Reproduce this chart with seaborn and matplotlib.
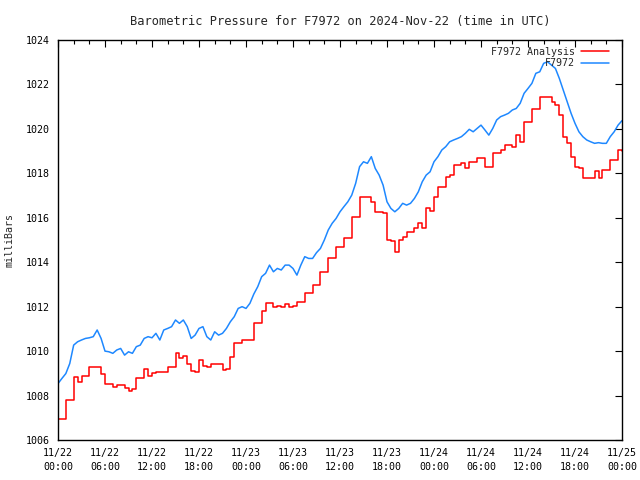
import pandas as pd
import matplotlib
matplotlib.use("Agg")
import matplotlib.pyplot as plt
import matplotlib.dates as mdates
import seaborn as sns

# half-hourly readings, 2024-11-22 00:00 .. 2024-11-25 00:00 UTC
station = "F7972"
obs_hpa = [
    1008.54, 1008.77, 1008.99, 1009.44, 1010.27, 1010.42, 1010.5, 1010.57, 1010.6, 1010.65,
    1010.95, 1010.57, 1010.0, 1009.97, 1009.9, 1010.05, 1010.12, 1009.82, 1009.97, 1009.9,
    1010.2, 1010.27, 1010.57, 1010.65, 1010.6, 1010.8, 1010.5, 1010.95, 1011.02, 1011.1,
    1011.4, 1011.25, 1011.4, 1011.1, 1010.57, 1010.72, 1011.02, 1011.1, 1010.65, 1010.5,
    1010.87, 1010.72, 1010.8, 1011.02, 1011.32, 1011.55, 1011.92, 1012.0, 1011.92, 1012.15,
    1012.57, 1012.9, 1013.35, 1013.5, 1013.87, 1013.57, 1013.72, 1013.65, 1013.87, 1013.87,
    1013.72, 1013.42, 1013.87, 1014.25, 1014.17, 1014.17, 1014.43, 1014.62, 1015.0, 1015.45,
    1015.75, 1015.97, 1016.27, 1016.5, 1016.72, 1017.02, 1017.55, 1018.3, 1018.52, 1018.45,
    1018.75, 1018.22, 1017.92, 1017.47, 1016.72, 1016.42, 1016.27, 1016.42, 1016.65, 1016.57,
    1016.65, 1016.87, 1017.17, 1017.62, 1017.92, 1018.07, 1018.52, 1018.75, 1019.05, 1019.2,
    1019.42, 1019.5, 1019.57, 1019.65, 1019.8, 1019.98, 1019.87, 1020.02, 1020.17, 1019.95,
    1019.72, 1020.02, 1020.4, 1020.55, 1020.62, 1020.7, 1020.85, 1020.92, 1021.15, 1021.6,
    1021.82, 1022.05, 1022.5, 1022.57, 1022.95, 1023.02, 1022.87, 1022.72, 1022.27, 1021.75,
    1021.22, 1020.7, 1020.25, 1019.87, 1019.65, 1019.5, 1019.42, 1019.35, 1019.38, 1019.35,
    1019.35, 1019.65, 1019.87, 1020.17, 1020.37]
analysis_hpa = [
    1006.96, 1006.96, 1007.82, 1007.8, 1008.84, 1008.62, 1008.89, 1008.89, 1009.3, 1009.3,
    1009.3, 1008.99, 1008.54, 1008.54, 1008.39, 1008.47, 1008.47, 1008.35, 1008.2, 1008.3,
    1008.77, 1008.77, 1009.19, 1008.9, 1009.0, 1009.07, 1009.07, 1009.07, 1009.3, 1009.3,
    1009.9, 1009.7, 1009.8, 1009.44, 1009.1, 1009.07, 1009.6, 1009.35, 1009.3, 1009.4,
    1009.44, 1009.44, 1009.14, 1009.2, 1009.75, 1010.35, 1010.35, 1010.5, 1010.5, 1010.5,
    1011.25, 1011.25, 1011.82, 1012.15, 1012.15, 1012.0, 1012.05, 1012.0, 1012.1, 1012.0,
    1012.05, 1012.22, 1012.22, 1012.6, 1012.6, 1012.97, 1012.97, 1013.57, 1013.57, 1014.17,
    1014.17, 1014.67, 1014.67, 1015.1, 1015.1, 1016.05, 1016.05, 1016.92, 1016.92, 1016.95,
    1016.72, 1016.27, 1016.25, 1016.2, 1015.0, 1014.95, 1014.47, 1015.0, 1015.15, 1015.37,
    1015.37, 1015.52, 1015.78, 1015.52, 1016.42, 1016.3, 1016.95, 1017.4, 1017.4, 1017.85,
    1017.92, 1018.37, 1018.37, 1018.45, 1018.22, 1018.52, 1018.52, 1018.67, 1018.67, 1018.3,
    1018.3, 1018.9, 1018.9, 1019.05, 1019.27, 1019.27, 1019.2, 1019.72, 1019.4, 1020.32,
    1020.32, 1020.88, 1020.88, 1021.45, 1021.45, 1021.45, 1021.22, 1021.07, 1020.62, 1019.65,
    1019.35, 1018.75, 1018.3, 1018.22, 1017.77, 1017.77, 1017.77, 1018.1, 1017.8, 1018.15,
    1018.15, 1018.6, 1018.6, 1019.05, 1019.0]

times = pd.date_range("2024-11-22 00:00", periods=len(obs_hpa), freq="30min")
df = pd.DataFrame({"time": times, "obs": obs_hpa, "analysis": analysis_hpa})

sns.set_style("white")
plt.rcParams["font.family"] = ["DejaVu Sans Mono"]
plt.rcParams["font.size"] = 7.2

fig = plt.figure(figsize=(6.4, 4.8), dpi=100)
ax = fig.add_axes([58 / 640, 40 / 480, 564 / 640, 400 / 480])

sns.lineplot(data=df, x="time", y="analysis", ax=ax, color="#ff0000", lw=1.1,
             drawstyle="steps-post", label=station + " Analysis")
sns.lineplot(data=df, x="time", y="obs", ax=ax, color="#1e88ff", lw=1.1, label=station)

ax.set_xlim(times[0], times[-1])
ax.set_ylim(1006, 1024)
ax.set_yticks(range(1006, 1025, 2))
ax.xaxis.set_major_locator(mdates.HourLocator(byhour=range(0, 24, 6)))
ax.xaxis.set_minor_locator(mdates.HourLocator(byhour=range(0, 24, 2)))
ax.xaxis.set_major_formatter(mdates.DateFormatter("%m/%d\n%H:%M"))
ax.tick_params(which="both", direction="in", top=True, right=True, color="black",
               labelcolor="black")
ax.tick_params(which="major", length=5, width=0.8, pad=6)
ax.tick_params(which="minor", length=3, width=0.8)
for lbl in ax.get_xticklabels():
    lbl.set_linespacing(1.45)
for s in ax.spines.values():
    s.set_color("black")
    s.set_linewidth(1.0)

ax.set_xlabel("")
ax.set_ylabel("milliBars", labelpad=8)
ax.set_title("Barometric Pressure for F7972 on 2024-Nov-22 (time in UTC)", pad=11)

ax.legend(loc="upper right", bbox_to_anchor=(1 - 6 / 564, 1), frameon=False,
          markerfirst=False, handlelength=2.8, handletextpad=0.6, labelspacing=0.15,
          borderaxespad=0.3)

fig.savefig("out.png", dpi=100)
